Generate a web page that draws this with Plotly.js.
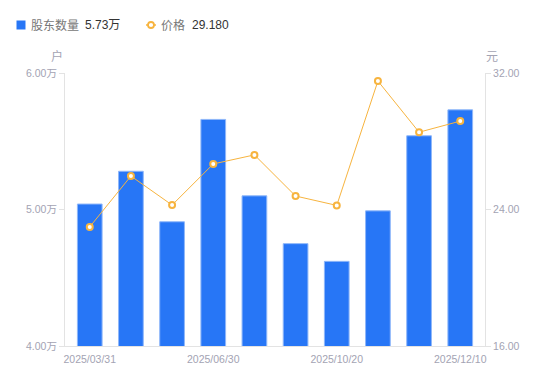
<!DOCTYPE html>
<html>
<head>
<meta charset="utf-8">
<script src="https://cdn.plot.ly/plotly-3.0.1.min.js"></script>
<style>html,body{margin:0;padding:0;background:#fff}#chart{width:550px;height:381px}</style>
</head>
<body>
<div id="chart"></div>
<script>
const categories = ["2025/03/31","2025/04/30","2025/05/31","2025/06/30","2025/08/20","2025/09/30","2025/10/20","2025/10/31","2025/11/20","2025/12/10"];
const holders = [5.04, 5.28, 4.91, 5.66, 5.10, 4.75, 4.62, 4.99, 5.54, 5.73];
const prices = [22.98, 25.96, 24.26, 26.67, 27.20, 24.79, 24.24, 31.53, 28.53, 29.18];
const xTickLabels = ["2025/03/31","2025/06/30","2025/10/20","2025/12/10"];
const leftTicks = [4, 5, 6];
const leftTickText = ["4.00万","5.00万","6.00万"];
const rightTicks = [16, 24, 32];
const rightTickText = ["16.00","24.00","32.00"];
const seriesNames = ["股东数量", "价格"];

const FONT = "Liberation Sans, Arial, Noto Sans CJK SC, sans-serif";
const axisGray = "#e3e3e3";
const tickGray = "#a3a3b3";
const barColor = "#2776f6";
const lineColor = "#f7b43f";

const traces = [
  {
    type: "bar",
    x: categories,
    y: holders,
    name: seriesNames[0],
    marker: {color: barColor, line: {color: "#8fb7f9", width: 1}},
    yaxis: "y"
  },
  {
    type: "scatter",
    mode: "lines+markers",
    x: categories,
    y: prices,
    name: seriesNames[1],
    line: {color: lineColor, width: 1},
    marker: {symbol: "circle", size: 6, color: "#ffffff", line: {color: lineColor, width: 2}},
    yaxis: "y2"
  }
];

const lastHolders = holders[holders.length-1].toFixed(2) + "万";
const lastPrice = prices[prices.length-1].toFixed(3);

function legendText(text, xshift, color) {
  return {text: text, xref: "paper", yref: "paper", x: 0, y: 1, xanchor: "left", yanchor: "middle",
    xshift: xshift, yshift: 48, showarrow: false, font: {family: FONT, size: 12, color: color}};
}

const layout = {
  width: 550, height: 381,
  margin: {l: 65, r: 65, t: 73, b: 35},
  paper_bgcolor: "#fff", plot_bgcolor: "#fff",
  font: {family: FONT, size: 11, color: tickGray},
  bargap: 0.4,
  showlegend: false,
  xaxis: {
    type: "category",
    tickmode: "array", tickvals: xTickLabels, ticktext: xTickLabels,
    showline: true, linecolor: axisGray, linewidth: 1,
    showgrid: false, zeroline: false, ticks: "",
    ticklabelstandoff: 3,
    tickfont: {family: FONT, size: 10.5, color: tickGray},
    automargin: false
  },
  yaxis: {
    range: [4, 6], tickmode: "array", tickvals: leftTicks, ticktext: leftTickText,
    showline: true, linecolor: axisGray, linewidth: 1,
    showgrid: false, zeroline: false,
    ticks: "outside", ticklen: 5, tickcolor: axisGray,
    tickfont: {family: FONT, size: 10.5, color: tickGray},
    automargin: false
  },
  yaxis2: {
    range: [16, 32], overlaying: "y", side: "right",
    tickmode: "array", tickvals: rightTicks, ticktext: rightTickText,
    showline: true, linecolor: axisGray, linewidth: 1,
    showgrid: false, zeroline: false,
    ticks: "outside", ticklen: 5, tickcolor: axisGray,
    tickfont: {family: FONT, size: 10.5, color: tickGray},
    automargin: false
  },
  shapes: [
    {type: "rect", xref: "paper", yref: "paper", xsizemode: "pixel", ysizemode: "pixel",
     xanchor: 0, yanchor: 1, x0: -48.5, x1: -39.5, y0: 52.5, y1: 43.5,
     fillcolor: barColor, line: {width: 0}},
    {type: "line", xref: "paper", yref: "paper", xsizemode: "pixel", ysizemode: "pixel",
     xanchor: 0, yanchor: 1, x0: 81, x1: 91, y0: 48, y1: 48,
     line: {color: lineColor, width: 1.5}},
    {type: "circle", xref: "paper", yref: "paper", xsizemode: "pixel", ysizemode: "pixel",
     xanchor: 0, yanchor: 1, x0: 83, x1: 89, y0: 51, y1: 45,
     fillcolor: "#ffffff", line: {color: lineColor, width: 1.8}}
  ],
  annotations: [
    {text: "户", xref: "paper", yref: "paper", x: 0, y: 1, xanchor: "right", yanchor: "bottom", xshift: 0, yshift: 7, showarrow: false, font: {family: FONT, size: 12, color: tickGray}},
    {text: "元", xref: "paper", yref: "paper", x: 1, y: 1, xanchor: "left", yanchor: "bottom", xshift: -1, yshift: 7, showarrow: false, font: {family: FONT, size: 12, color: tickGray}},
    legendText(seriesNames[0], -36, "#777"),
    legendText(lastHolders, 18, "#333"),
    legendText(seriesNames[1], 94, "#777"),
    legendText(lastPrice, 125, "#333")
  ]
};

Plotly.newPlot("chart", traces, layout, {displayModeBar: false, staticPlot: true});
</script>
</body>
</html>
